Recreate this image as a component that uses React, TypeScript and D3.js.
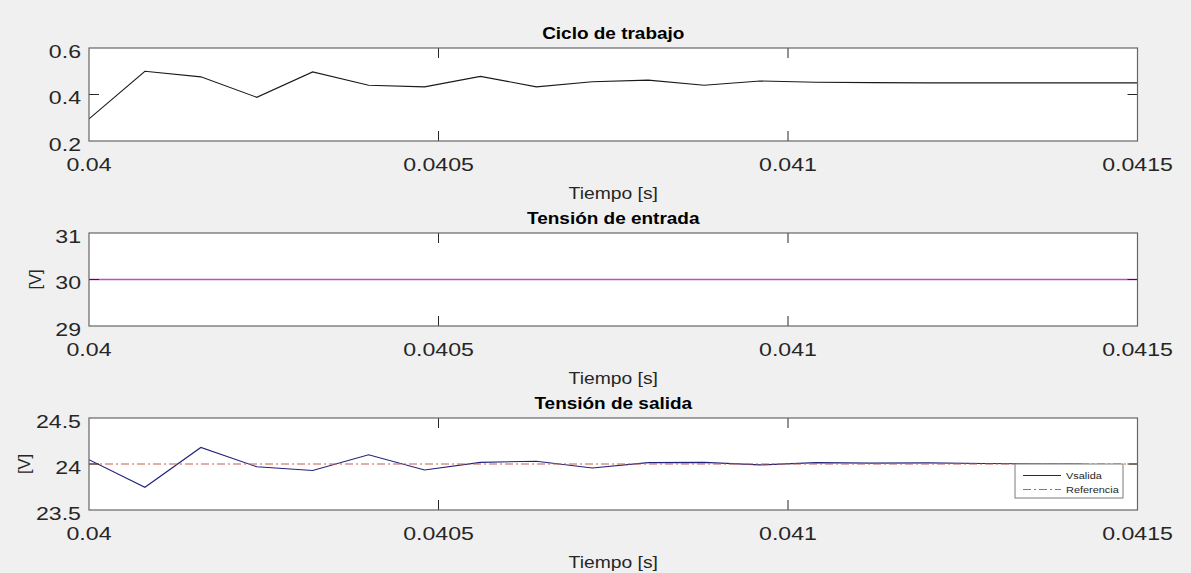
import React from "react";
import * as d3 from "d3";

// ---- Data ----
const timeTicks = [0.04, 0.0405, 0.041, 0.0415];
const timeTickLabels = ["0.04", "0.0405", "0.041", "0.0415"];

const dutyTime = [0.04, 0.04008, 0.04016, 0.04024, 0.04032, 0.0404, 0.04048, 0.04056, 0.04064, 0.04072, 0.0408, 0.04088, 0.04096, 0.04104, 0.04112, 0.0412, 0.04128, 0.04136, 0.04144, 0.0415];
const duty = [0.295, 0.5, 0.476, 0.388, 0.497, 0.44, 0.433, 0.478, 0.433, 0.455, 0.462, 0.44, 0.458, 0.453, 0.451, 0.45, 0.45, 0.45, 0.45, 0.45];
const dutyTicks = [0.2, 0.4, 0.6];
const dutyTickLabels = ["0.2", "0.4", "0.6"];

const vinTime = [0.04, 0.0415];
const vin = [30, 30];
const vinTicks = [29, 30, 31];
const vinTickLabels = ["29", "30", "31"];

const voutTime = [0.04, 0.04008, 0.04016, 0.04024, 0.04032, 0.0404, 0.04048, 0.04056, 0.04064, 0.04072, 0.0408, 0.04088, 0.04096, 0.04104, 0.04112, 0.0412, 0.04128, 0.04136, 0.04142];
const vout = [24.047, 23.747, 24.18, 23.97, 23.93, 24.1, 23.935, 24.018, 24.03, 23.957, 24.015, 24.018, 23.99, 24.015, 24.01, 24.012, 24.005, 24.0, 24.0];
const refTime = [0.04, 0.0415];
const vref = [24, 24];
const voutTicks = [23.5, 24, 24.5];
const voutTickLabels = ["23.5", "24", "24.5"];

// ---- Layout ----
const W = 1191;
const H = 573;
const X0 = 89;
const X1 = 1137.5;
const FONT = "'Liberation Sans', Arial, Helvetica, sans-serif";
const TXT = "#262626";

const xScale = d3.scaleLinear().domain([0.04, 0.0415]).range([X0, X1]);

function T(props: {
  x: number; y: number; text: string; size: number; sx?: number;
  anchor?: string; weight?: string | number; fill?: string; rotate?: number;
}) {
  const { x, y, text, size, sx = 1, anchor = "middle", weight = "normal", fill = TXT, rotate } = props;
  const tr = rotate !== undefined
    ? `translate(${x},${y}) rotate(${rotate})`
    : `translate(${x},${y}) scale(${sx},1)`;
  return (
    <text transform={tr} textAnchor={anchor as any} fontSize={size} fontWeight={weight as any}
      fontFamily={FONT} fill={fill}>{text}</text>
  );
}

type Series = { t: number[]; v: number[]; color: string; width: number; dash?: string };

function Panel(props: {
  top: number; bottom: number; domain: [number, number];
  yTicks: number[]; yTickLabels: string[]; title: string; ylabel?: string; ylabelX?: number;
  series: Series[]; legend?: boolean;
}) {
  const { top, bottom, domain, yTicks, yTickLabels, title, ylabel, ylabelX, series, legend } = props;
  const y = d3.scaleLinear().domain(domain).range([bottom, top]);
  const clipId = `clip-${Math.round(top)}`;
  const tickLen = 10;
  return (
    <g>
      <rect x={X0} y={top} width={X1 - X0} height={bottom - top} fill="#ffffff" />
      <defs>
        <clipPath id={clipId}>
          <rect x={X0} y={top} width={X1 - X0} height={bottom - top} />
        </clipPath>
      </defs>
      <g clipPath={`url(#${clipId})`}>
        {series.map((s, i) => {
          const line = d3.line<number>().x((_, j) => xScale(s.t[j])).y((d) => y(d));
          return (
            <path key={i} d={line(s.v) || ""} fill="none" stroke={s.color} strokeWidth={s.width}
              strokeDasharray={s.dash} />
          );
        })}
      </g>
      {/* ticks */}
      {timeTicks.slice(1, -1).map((t, i) => (
        <g key={"xt" + i}>
          <line x1={xScale(t)} x2={xScale(t)} y1={bottom} y2={bottom - tickLen} stroke="#262626" strokeWidth={1} />
          <line x1={xScale(t)} x2={xScale(t)} y1={top} y2={top + tickLen} stroke="#262626" strokeWidth={1} />
        </g>
      ))}
      {yTicks.slice(1, -1).map((v, i) => (
        <g key={"yt" + i}>
          <line x1={X0} x2={X0 + tickLen} y1={y(v)} y2={y(v)} stroke="#262626" strokeWidth={1} />
          <line x1={X1} x2={X1 - tickLen} y1={y(v)} y2={y(v)} stroke="#262626" strokeWidth={1} />
        </g>
      ))}
      <rect x={X0} y={top} width={X1 - X0} height={bottom - top} fill="none" stroke="#666666" strokeWidth={1.2} />
      {/* tick labels */}
      {timeTicks.map((t, i) => (
        <T key={"xl" + i} x={xScale(t)} y={bottom + 30} text={timeTickLabels[i]} size={18.5} sx={1.25} />
      ))}
      {yTicks.map((v, i) => (
        <T key={"yl" + i} x={81} y={y(v) + 9.6} text={yTickLabels[i]} size={18.5} sx={1.25} anchor="end" />
      ))}
      <T x={(X0 + X1) / 2} y={bottom + 57.5} text="Tiempo [s]" size={16.5} sx={1.17} />
      <T x={(X0 + X1) / 2} y={top - 9} text={title} size={16.5} sx={1.15} weight="bold" fill="#000" />
      {ylabel && (
        <T x={ylabelX || 30} y={(top + bottom) / 2} text={ylabel} size={16.5} rotate={-90} />
      )}
      {legend && (
        <g>
          <rect x={1015} y={464} width={108} height={34} fill="#ffffff" stroke="#7a7a7a" strokeWidth={1} />
          <line x1={1023} x2={1061} y1={475.5} y2={475.5} stroke={series[0].color} strokeWidth={1.2} />
          <line x1={1023} x2={1061} y1={489.5} y2={489.5} stroke={series[1].color} strokeWidth={1.2} strokeDasharray={series[1].dash} />
          <T x={1066} y={479} text="Vsalida" size={9.5} sx={1.15} anchor="start" />
          <T x={1066} y={493} text="Referencia" size={9.5} sx={1.15} anchor="start" />
        </g>
      )}
    </g>
  );
}

export default function App() {
  return (
    <svg width={W} height={H} style={{ position: "absolute", left: 0, top: 0, display: "block" }}>
      <rect x={0} y={0} width={W} height={H} fill="#f0f0f0" />
      <Panel top={48} bottom={141} domain={[0.2, 0.6]} yTicks={dutyTicks} yTickLabels={dutyTickLabels}
        title="Ciclo de trabajo"
        series={[{ t: dutyTime, v: duty, color: "#1a1a1a", width: 1.1 }]} />
      <Panel top={233} bottom={326} domain={[29, 31]} yTicks={vinTicks} yTickLabels={vinTickLabels}
        title="Tensión de entrada" ylabel="[V]" ylabelX={41}
        series={[{ t: vinTime, v: vin, color: "#c24bc8", width: 1.3 }]} />
      <Panel top={418} bottom={510} domain={[23.5, 24.5]} yTicks={voutTicks} yTickLabels={voutTickLabels}
        title="Tensión de salida" ylabel="[V]" ylabelX={30}
        series={[
          { t: voutTime, v: vout, color: "#22227a", width: 1.1 },
          { t: refTime, v: vref, color: "#c0604d", width: 1.1, dash: "8,3,2,3" },
        ]} legend />
    </svg>
  );
}
